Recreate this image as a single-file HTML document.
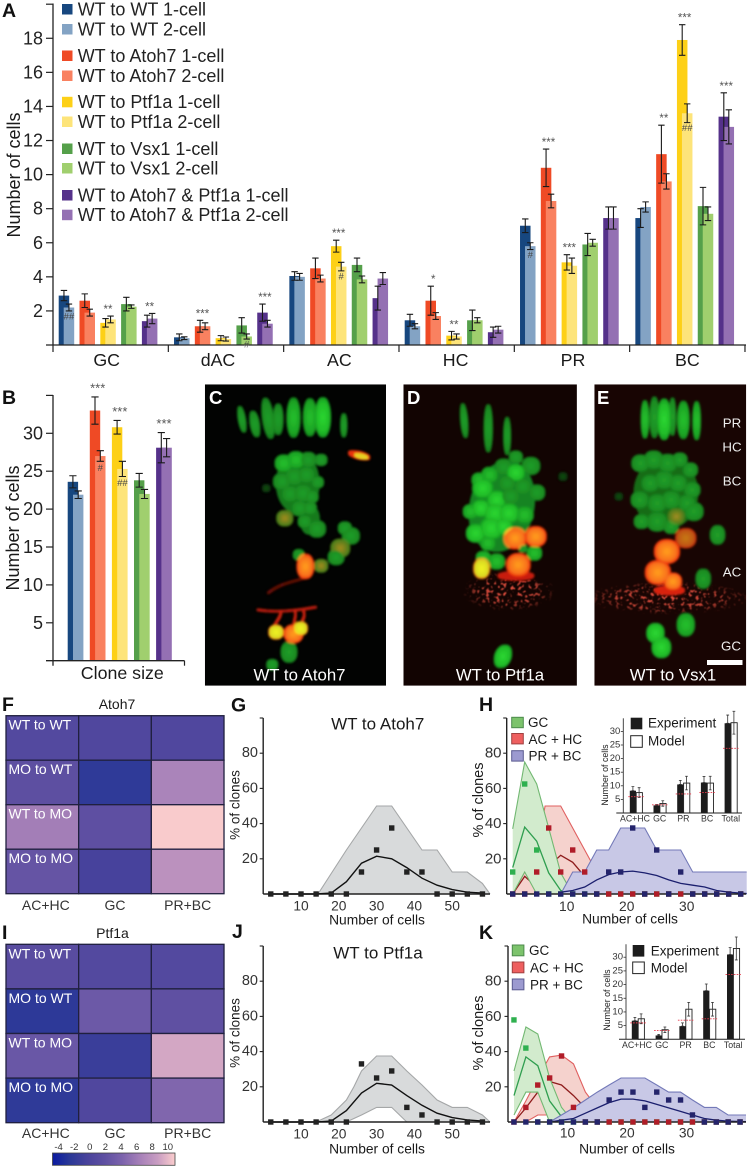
<!DOCTYPE html>
<html lang="en">
<head>
<meta charset="utf-8">
<title>Clone composition figure</title>
<style>
html,body{margin:0;padding:0;background:#fff;width:747px;height:1167px;overflow:hidden}
svg{display:block}
text{font-family:"Liberation Sans",sans-serif;fill:#1a1a1a;dominant-baseline:central}
.pl{font-weight:bold;font-size:19.5px;fill:#111;dominant-baseline:auto}
.wl{fill:#fff;font-size:18.5px}
.lg{font-size:18px;fill:#222}
.hm{font-size:14px;fill:#fff}
.hc{font-size:14px;fill:#333}
.mi{font-size:16.8px;fill:#fff}
.ml{font-size:13.3px;fill:#eee}
</style>
</head>
<body>
<svg id="fig" xmlns="http://www.w3.org/2000/svg" width="747" height="1167" viewBox="0 0 747 1167">
<defs>
<radialGradient id="gc"><stop offset="0" stop-color="#2ad430"/><stop offset=".7" stop-color="#20bc28"/><stop offset="1" stop-color="#14941e"/></radialGradient>
<radialGradient id="gm"><stop offset="0" stop-color="#24be2c"/><stop offset=".75" stop-color="#1ca424"/><stop offset="1" stop-color="#12861a"/></radialGradient>
<radialGradient id="gd"><stop offset="0" stop-color="#209c28"/><stop offset=".75" stop-color="#1a8c22"/><stop offset="1" stop-color="#127418"/></radialGradient>
<radialGradient id="gf"><stop offset="0" stop-color="#0f4a12"/><stop offset="1" stop-color="#082a0a"/></radialGradient>
<radialGradient id="oc"><stop offset="0" stop-color="#ff9a1c"/><stop offset=".7" stop-color="#f8701a"/><stop offset="1" stop-color="#e8240a"/></radialGradient>
<radialGradient id="yc"><stop offset="0" stop-color="#eef020"/><stop offset=".75" stop-color="#d8d820"/><stop offset="1" stop-color="#e0400c"/></radialGradient>
<radialGradient id="ol"><stop offset="0" stop-color="#9a8a20"/><stop offset="1" stop-color="#3d7a18"/></radialGradient>
<radialGradient id="fade"><stop offset="0" stop-color="#fff" stop-opacity="1"/><stop offset=".6" stop-color="#fff" stop-opacity=".8"/><stop offset="1" stop-color="#fff" stop-opacity="0"/></radialGradient>
<linearGradient id="cbar" x1="0" x2="1" y1="0" y2="0">
<stop offset="0" stop-color="#0a1aa0"/><stop offset=".14" stop-color="#2a3897"/><stop offset=".29" stop-color="#4a439c"/><stop offset=".43" stop-color="#5f50a2"/><stop offset=".57" stop-color="#7c63ac"/><stop offset=".71" stop-color="#a57fb8"/><stop offset=".86" stop-color="#c99dc2"/><stop offset="1" stop-color="#fbcdcd"/>
</linearGradient>
<filter id="soft" x="-5%" y="-5%" width="110%" height="110%"><feMorphology operator="dilate" radius="3"/><feGaussianBlur stdDeviation="3"/></filter>
<filter id="speck" x="-5%" y="-5%" width="110%" height="110%">
<feTurbulence type="fractalNoise" baseFrequency="0.1" numOctaves="2" seed="4"/>
<feColorMatrix values="0 0 0 0 .8  0 0 0 0 .08  0 0 0 0 .05  0 0 0 8 -4.4"/>
<feComposite in2="SourceAlpha" operator="in" result="c"/>
<feGaussianBlur in="c" stdDeviation="1.2"/>
</filter>
<clipPath id="clipC"><rect x="14" y="13" width="519" height="905"/></clipPath>
<clipPath id="clipD"><rect x="583" y="13" width="497" height="905"/></clipPath>
<clipPath id="clipE"><rect x="1130" y="13" width="435" height="905"/></clipPath>
</defs>

<!-- Panel A static text -->
<g>
<text class="pl" x="2" y="17">A</text>
<text x="14" y="175" font-size="18" text-anchor="middle" transform="rotate(-90 14 175)">Number of cells</text>
<g id="barsA"></g>
<g>
<rect x="62" y="4" width="10.5" height="10.5" fill="#17477f"/><text class="lg" x="77.7" y="9.6">WT to WT 1-cell</text>
<rect x="62" y="24" width="10.5" height="10.5" fill="#83a3c4"/><text class="lg" x="77.7" y="29.4">WT to WT 2-cell</text>
<rect x="62" y="50.5" width="10.5" height="10.5" fill="#ef4a25"/><text class="lg" x="77.7" y="56">WT to Atoh7 1-cell</text>
<rect x="62" y="70.5" width="10.5" height="10.5" fill="#f98160"/><text class="lg" x="77.7" y="75.8">WT to Atoh7 2-cell</text>
<rect x="62" y="96.8" width="10.5" height="10.5" fill="#fdd017"/><text class="lg" x="77.7" y="102.2">WT to Ptf1a 1-cell</text>
<rect x="62" y="116.5" width="10.5" height="10.5" fill="#fde47a"/><text class="lg" x="77.7" y="121.8">WT to Ptf1a 2-cell</text>
<rect x="62" y="143.5" width="10.5" height="10.5" fill="#55a04a"/><text class="lg" x="77.7" y="148.8">WT to Vsx1 1-cell</text>
<rect x="62" y="163" width="10.5" height="10.5" fill="#a0cf6e"/><text class="lg" x="77.7" y="168.4">WT to Vsx1 2-cell</text>
<rect x="62" y="190" width="10.5" height="10.5" fill="#55318a"/><text class="lg" x="77.7" y="195.4">WT to Atoh7 &amp; Ptf1a 1-cell</text>
<rect x="62" y="209.7" width="10.5" height="10.5" fill="#9470b3"/><text class="lg" x="77.7" y="215">WT to Atoh7 &amp; Ptf1a 2-cell</text>
</g>
</g>

<!-- Panel B static text -->
<g>
<text class="pl" x="2" y="404">B</text>
<text x="13" y="528" font-size="18" text-anchor="middle" transform="rotate(-90 13 528)">Number of cells</text>
<text x="122.3" y="673" font-size="17.8" text-anchor="middle">Clone size</text>
<g id="barsB"></g>
</g>

<!-- Micrographs -->
<g transform="translate(200,380) scale(.349,.333)">
<g clip-path="url(#clipC)">
<rect x="14" y="13" width="519" height="905" fill="#020302"/>
<g filter="url(#soft)">
<ellipse cx="120" cy="118" rx="9" ry="38" fill="url(#gd)" transform="rotate(-10 120 118)"/>
<ellipse cx="157" cy="132" rx="12" ry="38" fill="url(#gd)" transform="rotate(-10 157 132)"/>
<ellipse cx="195" cy="115" rx="15" ry="60" fill="url(#gd)" transform="rotate(-8 195 115)"/>
<ellipse cx="224" cy="118" rx="13" ry="45" fill="url(#gd)"/>
<ellipse cx="268" cy="113" rx="18" ry="58" fill="url(#gm)"/>
<ellipse cx="315" cy="112" rx="18" ry="55" fill="url(#gm)"/>
<ellipse cx="352" cy="112" rx="21" ry="58" fill="url(#gc)"/>
<ellipse cx="412" cy="136" rx="8" ry="34" fill="url(#gd)"/>
<circle cx="190" cy="325" r="10" fill="url(#gf)"/>
<ellipse cx="280" cy="310" rx="60" ry="88" fill="#137a1c"/>
<ellipse cx="315" cy="420" rx="26" ry="42" fill="#137a1c"/>
<circle cx="240" cy="250" r="24" fill="url(#gm)"/>
<circle cx="275" cy="240" r="24" fill="url(#gm)"/>
<circle cx="310" cy="240" r="22" fill="url(#gd)"/>
<circle cx="347" cy="240" r="16" fill="url(#gd)"/>
<circle cx="235" cy="305" r="24" fill="url(#gd)"/>
<circle cx="270" cy="290" r="26" fill="url(#gd)"/>
<circle cx="305" cy="285" r="24" fill="url(#gd)"/>
<circle cx="337" cy="307" r="16" fill="url(#gd)"/>
<circle cx="258" cy="342" r="24" fill="url(#gd)"/>
<circle cx="295" cy="340" r="26" fill="url(#gd)"/>
<circle cx="320" cy="350" r="18" fill="url(#gd)"/>
<circle cx="285" cy="385" r="22" fill="url(#gd)"/>
<circle cx="315" cy="385" r="18" fill="url(#gd)"/>
<circle cx="300" cy="425" r="18" fill="url(#gd)"/>
<circle cx="335" cy="447" r="24" fill="url(#gd)"/>
<circle cx="243" cy="415" r="22" fill="url(#ol)"/>
<circle cx="415" cy="445" r="18" fill="url(#gd)"/>
<circle cx="432" cy="468" r="24" fill="url(#gd)"/>
<circle cx="402" cy="505" r="26" fill="url(#ol)"/>
<circle cx="390" cy="532" r="22" fill="url(#gd)"/>
<circle cx="283" cy="525" r="15" fill="url(#gd)"/>
<circle cx="347" cy="558" r="18" fill="url(#ol)"/>
<ellipse cx="302" cy="560" rx="23" ry="36" fill="url(#oc)"/>
<ellipse cx="456" cy="226" rx="30" ry="10" fill="#e8300c" transform="rotate(15 456 226)"/>
<ellipse cx="462" cy="229" rx="18" ry="5" fill="#d8d020" transform="rotate(15 462 229)"/>
<path d="M195 640 C230 610 270 605 310 592" stroke="#8c140a" stroke-width="1.5" fill="none"/>
<path d="M165 690 C220 700 280 692 332 682" stroke="#b81c0c" stroke-width="3" fill="none"/>
<path d="M212 740 C222 720 232 710 232 695 M268 735 C272 715 276 705 272 692 M292 725 C300 712 300 700 296 692" stroke="#c8200c" stroke-width="2.5" fill="none"/>
<circle cx="268" cy="762" r="26" fill="url(#oc)"/>
<circle cx="218" cy="757" r="20" fill="url(#yc)"/>
<circle cx="288" cy="746" r="19" fill="url(#yc)"/>
<ellipse cx="255" cy="817" rx="22" ry="30" fill="url(#gd)"/>
<circle cx="207" cy="855" r="15" fill="url(#gd)"/>
</g>
</g>

<g clip-path="url(#clipD)">
<rect x="583" y="13" width="497" height="905" fill="#120402"/>
<ellipse cx="885" cy="635" rx="135" ry="60" fill="url(#fade)" filter="url(#speck)"/>
<g filter="url(#soft)">
<ellipse cx="757" cy="122" rx="9" ry="50" fill="url(#gd)" transform="rotate(-5 757 122)"/>
<ellipse cx="826" cy="145" rx="11" ry="70" fill="url(#gd)"/>
<ellipse cx="880" cy="168" rx="9" ry="55" fill="url(#gd)"/>
<circle cx="1040" cy="290" r="11" fill="url(#gf)"/>
<ellipse cx="865" cy="380" rx="90" ry="135" fill="#128420" transform="rotate(12 865 380)"/>
<ellipse cx="905" cy="588" rx="50" ry="12" fill="#c81c0a"/>
<circle cx="905" cy="232" r="18" fill="url(#gd)"/>
<circle cx="948" cy="258" r="25" fill="url(#gd)"/>
<circle cx="870" cy="262" r="24" fill="url(#gd)"/>
<circle cx="905" cy="278" r="24" fill="url(#gc)"/>
<circle cx="800" cy="300" r="20" fill="url(#gm)"/>
<circle cx="830" cy="285" r="22" fill="url(#gm)"/>
<circle cx="965" cy="338" r="22" fill="url(#gd)"/>
<circle cx="925" cy="320" r="24" fill="url(#gd)"/>
<circle cx="880" cy="310" r="24" fill="url(#gd)"/>
<circle cx="810" cy="325" r="28" fill="url(#gc)"/>
<circle cx="850" cy="360" r="26" fill="url(#gc)"/>
<circle cx="890" cy="350" r="26" fill="url(#gd)"/>
<circle cx="775" cy="395" r="20" fill="url(#gm)"/>
<circle cx="805" cy="385" r="24" fill="url(#gc)"/>
<circle cx="845" cy="400" r="30" fill="url(#gc)"/>
<circle cx="885" cy="400" r="28" fill="url(#gc)"/>
<circle cx="930" cy="405" r="24" fill="url(#gm)"/>
<circle cx="790" cy="460" r="26" fill="url(#gc)"/>
<circle cx="835" cy="445" r="32" fill="url(#gc)"/>
<circle cx="870" cy="440" r="24" fill="url(#gc)"/>
<circle cx="825" cy="490" r="20" fill="url(#gm)"/>
<circle cx="812" cy="535" r="20" fill="url(#gm)"/>
<circle cx="850" cy="545" r="22" fill="url(#gm)"/>
<circle cx="958" cy="520" r="20" fill="url(#gm)"/>
<circle cx="903" cy="475" r="31" fill="url(#oc)"/>
<circle cx="962" cy="470" r="29" fill="url(#oc)"/>
<circle cx="912" cy="555" r="33" fill="url(#oc)"/>
<circle cx="925" cy="505" r="11" fill="url(#gd)"/>
<ellipse cx="807" cy="566" rx="22" ry="29" fill="url(#yc)"/>
<ellipse cx="868" cy="830" rx="22" ry="34" fill="url(#gc)" transform="rotate(20 868 830)"/>
</g>
</g>

<g clip-path="url(#clipE)">
<rect x="1130" y="13" width="435" height="905" fill="#180503"/>
<ellipse cx="1340" cy="655" rx="240" ry="50" fill="url(#fade)" filter="url(#speck)"/>
<g filter="url(#soft)">
<ellipse cx="1275" cy="118" rx="10" ry="55" fill="url(#gm)"/>
<ellipse cx="1302" cy="112" rx="12" ry="60" fill="url(#gd)"/>
<ellipse cx="1330" cy="118" rx="18" ry="60" fill="url(#gc)"/>
<ellipse cx="1354" cy="110" rx="8" ry="55" fill="url(#gd)"/>
<ellipse cx="1385" cy="120" rx="16" ry="55" fill="url(#gm)"/>
<ellipse cx="1423" cy="122" rx="10" ry="56" fill="url(#gm)"/>
<circle cx="1200" cy="350" r="10" fill="url(#gf)"/>
<ellipse cx="1335" cy="340" rx="90" ry="105" fill="#126c18"/>
<circle cx="1262" cy="250" r="24" fill="url(#gd)"/>
<circle cx="1300" cy="240" r="26" fill="url(#gd)"/>
<circle cx="1340" cy="250" r="26" fill="url(#gd)"/>
<circle cx="1375" cy="240" r="20" fill="url(#gd)"/>
<circle cx="1405" cy="270" r="20" fill="url(#gd)"/>
<circle cx="1290" cy="310" r="24" fill="url(#gd)"/>
<circle cx="1330" cy="300" r="26" fill="url(#gd)"/>
<circle cx="1370" cy="310" r="24" fill="url(#gd)"/>
<circle cx="1410" cy="330" r="22" fill="url(#gd)"/>
<circle cx="1260" cy="360" r="24" fill="url(#gd)"/>
<circle cx="1310" cy="370" r="26" fill="url(#gd)"/>
<circle cx="1350" cy="360" r="26" fill="url(#gd)"/>
<circle cx="1395" cy="370" r="24" fill="url(#gd)"/>
<circle cx="1265" cy="425" r="20" fill="url(#gd)"/>
<circle cx="1310" cy="425" r="28" fill="url(#gd)"/>
<circle cx="1415" cy="395" r="26" fill="url(#gd)"/>
<circle cx="1350" cy="440" r="20" fill="url(#gd)"/>
<circle cx="1365" cy="410" r="22" fill="url(#ol)"/>
<ellipse cx="1483" cy="465" rx="20" ry="27" fill="url(#gd)"/>
<ellipse cx="1442" cy="597" rx="20" ry="28" fill="url(#gd)"/>
<ellipse cx="1345" cy="632" rx="42" ry="12" fill="#d8200c"/>
<circle cx="1392" cy="475" r="28" fill="url(#oc)" opacity=".75"/>
<circle cx="1338" cy="515" r="35" fill="url(#oc)"/>
<circle cx="1312" cy="578" r="35" fill="url(#oc)"/>
<circle cx="1355" cy="605" r="24" fill="url(#oc)"/>
<ellipse cx="1392" cy="735" rx="24" ry="33" fill="url(#gm)"/>
<ellipse cx="1305" cy="760" rx="24" ry="28" fill="url(#gc)"/>
<ellipse cx="1322" cy="803" rx="26" ry="30" fill="url(#gc)"/>
</g>
</g>
</g>
<g>
<text class="pl wl" x="209" y="404">C</text>
<text class="pl wl" x="407" y="404">D</text>
<text class="pl wl" x="597" y="404">E</text>
<text class="mi" x="299.5" y="675" text-anchor="middle">WT to Atoh7</text>
<text class="mi" x="500" y="675" text-anchor="middle">WT to Ptf1a</text>
<text class="mi" x="673" y="675" text-anchor="middle">WT to Vsx1</text>
<text class="ml" x="732" y="423" text-anchor="middle">PR</text>
<text class="ml" x="732" y="447" text-anchor="middle">HC</text>
<text class="ml" x="732" y="481" text-anchor="middle">BC</text>
<text class="ml" x="732" y="572" text-anchor="middle">AC</text>
<text class="ml" x="731" y="646" text-anchor="middle">GC</text>
<rect x="707" y="660" width="35.5" height="5" fill="#fff"/>
</g>

<!-- Heatmaps text -->
<g>
<text class="pl" x="2" y="711">F</text>
<text x="117" y="704" font-size="14" text-anchor="middle" fill="#333">Atoh7</text>
<g id="heatF"></g>
</g>
<g>
<text class="pl" x="2" y="939">I</text>
<text x="112.5" y="933" font-size="14" text-anchor="middle" fill="#333">Ptf1a</text>
<g id="heatI"></g>
<rect x="52.5" y="1153" width="122.5" height="12.3" fill="url(#cbar)" stroke="#444" stroke-width=".8"/>
<g id="cbarTicks"></g>
</g>

<!-- G / J -->
<g>
<text class="pl" x="231" y="711.5">G</text>
<text x="377.7" y="724" font-size="17" text-anchor="middle" fill="#222">WT to Atoh7</text>
<text x="235" y="805" font-size="13.5" text-anchor="middle" transform="rotate(-90 235 805)" fill="#333">% of clones</text>
<text x="377" y="920" font-size="13.8" text-anchor="middle" fill="#333">Number of cells</text>
<g id="plotG"></g>
</g>
<g>
<text class="pl" x="232" y="938">J</text>
<text x="378" y="953" font-size="17" text-anchor="middle" fill="#222">WT to Ptf1a</text>
<text x="235" y="1033" font-size="13.5" text-anchor="middle" transform="rotate(-90 235 1033)" fill="#333">% of clones</text>
<text x="377" y="1149" font-size="13.8" text-anchor="middle" fill="#333">Number of cells</text>
<g id="plotJ"></g>
</g>

<!-- H / K -->
<g>
<text class="pl" x="479" y="711">H</text>
<text x="479" y="800" font-size="14.5" text-anchor="middle" transform="rotate(-90 479 800)" fill="#333">% of clones</text>
<text x="630" y="919" font-size="13.8" text-anchor="middle" fill="#333">Number of cells</text>
<g id="plotH"></g>
<g>
<rect x="511.7" y="717.3" width="11.6" height="10.4" fill="#7cc36c" stroke="#4c8a4c"/><text x="528" y="722.5" font-size="13.5" fill="#222">GC</text>
<rect x="511.7" y="733.5" width="11.6" height="10.4" fill="#ee5f5f" stroke="#a04040"/><text x="528.5" y="739.5" font-size="13.5" fill="#222">AC + HC</text>
<rect x="511.7" y="750.7" width="11.6" height="10.4" fill="#9c9ad0" stroke="#5a5a90"/><text x="528.5" y="756" font-size="13.5" fill="#222">PR + BC</text>
</g>
<g id="insetH"></g>
<text x="605" y="775" font-size="8.8" text-anchor="middle" transform="rotate(-90 605 775)" fill="#333">Number of cells</text>
<g>
<rect x="630.7" y="717.7" width="11.6" height="11.6" fill="#1c1c1c"/><text x="648" y="723" font-size="13.5" fill="#222">Experiment</text>
<rect x="630.7" y="735.7" width="11.6" height="11.6" fill="#fff" stroke="#222"/><text x="648" y="741" font-size="13.5" fill="#222">Model</text>
</g>
</g>
<g>
<text class="pl" x="479" y="939">K</text>
<text x="479" y="1033" font-size="14.5" text-anchor="middle" transform="rotate(-90 479 1033)" fill="#333">% of clones</text>
<text x="627" y="1149" font-size="13.8" text-anchor="middle" fill="#333">Number of cells</text>
<g id="plotK"></g>
<g>
<rect x="512.3" y="945" width="11.6" height="10.8" fill="#7cc36c" stroke="#4c8a4c"/><text x="529" y="950.5" font-size="13.5" fill="#222">GC</text>
<rect x="512.3" y="962" width="11.6" height="10.8" fill="#ee5f5f" stroke="#a04040"/><text x="530" y="968" font-size="13.5" fill="#222">AC + HC</text>
<rect x="512.3" y="979" width="11.6" height="10.8" fill="#9c9ad0" stroke="#5a5a90"/><text x="530" y="985" font-size="13.5" fill="#222">PR + BC</text>
</g>
<g id="insetK"></g>
<text x="607" y="1000" font-size="8.8" text-anchor="middle" transform="rotate(-90 607 1000)" fill="#333">Number of cells</text>
<g>
<rect x="632.7" y="945" width="11.6" height="11.6" fill="#1c1c1c"/><text x="650.7" y="951" font-size="13.5" fill="#222">Experiment</text>
<rect x="632.7" y="962" width="11.6" height="11.6" fill="#fff" stroke="#222"/><text x="650.7" y="968" font-size="13.5" fill="#222">Model</text>
</g>
</g>
</svg>

<script>
/* ---------- Panel A data ---------- */
const aGroups = ['GC','dAC','AC','HC','PR','BC'];
const aTickValues = [2,4,6,8,10,12,14,16,18,20];
const aTickLabels = ['2','4','6','8','10','12','14','16','18',''];
const seriesNames = ['wt','atoh7','ptf1a','vsx1','both'];
const oneCellColors = ['#17477f','#ef4a25','#fdd017','#55a04a','#55318a'];
const twoCellColors = ['#83a3c4','#f98160','#fde47a','#a0cf6e','#9470b3'];
const aOneCell = [[2.9,2.6,1.3,2.4,1.4],[0.45,1.1,0.4,1.15,1.9],[4.05,4.5,5.8,4.7,2.75],[1.45,2.6,0.55,1.45,0.75],[7.0,10.4,4.85,5.9,7.45],[7.45,11.2,17.9,8.15,13.4]];
const aOneCellErr = [[0.3,0.4,0.25,0.4,0.35],[0.2,0.35,0.15,0.45,0.5],[0.25,0.6,0.35,0.4,0.7],[0.35,0.85,0.25,0.6,0.3],[0.4,1.1,0.45,0.65,0.65],[0.55,1.7,0.9,1.1,1.4]];
const aTwoCell = [[2.2,1.9,1.5,2.25,1.55],[0.4,1.1,0.35,0.5,1.25],[4.0,3.9,4.6,3.85,3.9],[1.1,1.7,0.5,1.45,0.9],[5.8,8.45,4.65,6.0,7.45],[8.1,9.6,13.6,7.7,12.8]];
const aTwoCellErr = [[0.2,0.2,0.2,0.1,0.3],[0.08,0.2,0.12,0.15,0.2],[0.2,0.2,0.25,0.2,0.35],[0.15,0.2,0.15,0.15,0.2],[0.2,0.4,0.45,0.2,0.65],[0.3,0.45,0.55,0.4,1.0]];
const aStarLabels = [[0,2,'**'],[0,4,'**'],[1,1,'***'],[1,4,'***'],[2,2,'***'],[3,1,'*'],[3,2,'**'],[4,1,'***'],[4,2,'***'],[5,1,'**'],[5,2,'***'],[5,4,'***']];
const aHashLabels = [[0,0,'##'],[1,3,'#'],[2,2,'#'],[4,0,'#'],[5,2,'##']];

/* ---------- Panel B data ---------- */
const bTickValues = [5,10,15,20,25,30,35];
const bTickLabels = ['5','10','15','20','25','30',''];
const bOneCell = [23.6,33,30.8,23.8,28.1];
const bOneCellErr = [0.8,1.8,0.9,0.9,2.0];
const bTwoCell = [21.9,27,25.3,22,28.1];
const bTwoCellErr = [0.5,0.7,1.0,0.6,1.2];
const bStarLabels = [[1,'***'],[2,'***'],[4,'***']];
const bHashLabels = [[1,'#'],[2,'##']];

/* ---------- Heatmap data ---------- */
const heatRows = ['WT to WT','MO to WT','WT to MO','MO to MO'];
const heatCols = ['AC+HC','GC','PR+BC'];
const heatAtoh7 = [[0.9,0.6,0.6],[1.8,-1.7,6.3],[5.9,1.9,9.9],[2.4,-0.2,7.2]];
const heatPtf1a = [[1.4,0.9,0.9],[-1.8,2.9,2.0],[2.7,-1.0,8.4],[-1.7,0.6,4.2]];
const colorStops = [-4,-2,0,2,4,6,8,10];
const colorValues = ['#0a1aa0','#2a3897','#4a439c','#5f50a2','#7c63ac','#a57fb8','#c99dc2','#fbcdcd'];
const cbarLabels = ['-4','-2','0','2','4','6','8','10'];

/* ---------- Distribution axes ---------- */
const pctTicks = [20,40,60,80,100];
const pctLabels = ['20','40','60','80',''];
const gjXTicks = [10,20,30,40,50];
const hkXTicks = [10,20,30];

/* ---------- Panel G data ---------- */
const gjSizes = [2,6,10,14,18,22,26,30,34,38,42,46,50,54,58];
const gPoints = [0,0,0,0,0,0,12.5,25,37.5,12.5,12.5,0,0,0,0];
const gMeanX = [2,6,10,14,18,22,26,30,34,38,42,46,50,54,58];
const gMean = [0,0,0,0,0.5,7,17.5,21.5,20,15,9,5,2.5,1,0.5];
const gBandX = [14.5,22,30,34,42,46,50,54,58,60];
const gBandUpper = [0,25,50,50,25,25,12.5,12.5,6,0];
const gBandLower = [0,0,0,0,0,0,0,0,0,0];

/* ---------- Panel J data ---------- */
const jPoints = [0,0,0,0,0,0,33,25,29,8.3,4,0,0,0,0];
const jMean = [0,0,0,0,0.5,6.5,16.5,22,21,15,9.5,5,2.5,1.2,0.5];
const jBandX = [14,18,22,24,26,30,34,38,42,46,50,54,58,60];
const jBandUpper = [0,4,12.5,20,29,37.5,37.5,29,21,12.5,8.3,8.3,4,0];
const jBandLower = [0,0,0,2,4,8.3,8.3,0,0,0,0,0,0,0];

/* ---------- Panel H data ---------- */
const hkSizes = [1,3,5,7,9,11,13,15,17,19,21,23,25,27,29,31,33,35,37,39];
const hGcPoints = [12.5,62.5,25,0,0,0,0,0,0,0,0,0,0,0,0,0,0,0,0,0];
const hAcPoints = [0,0,12.5,37.5,12.5,25,12.5,0,0,0,0,0,0,0,0,0,0,0,0,0];
const hPrPoints = [0,0,0,0,0,0,0,0,12.5,12.5,37.5,0,25,0,12.5,0,0,0,0,0];
const hGcBandX = [1,3,5,7,9,11];
const hGcUpper = [37,75,62.5,37.5,12,0];
const hGcLower = [0,12.5,0,0,0,0];
const hGcMean = [15,38,30,12,2,0];
const hAcBandX = [1,3,5,6.4,9,11,13,15,17];
const hAcUpper = [0,12.5,25,50,50,37.5,25,12.5,0];
const hAcLower = [0,0,0,0,0,0,0,0,0];
const hAcMean = [0,10,4,14,22,18,10,3,0];
const hPrBandX = [9,11,13,15,17,19,21,23,25,27,29,31,33,35,37,39,40];
const hPrUpper = [0,12.5,12.5,25,25,37.5,37.5,37.5,25,25,25,12.5,12.5,12.5,12.5,12.5,12.5];
const hPrLower = [0,0,0,0,0,0,0,0,0,0,0,0,0,0,0,0,0];
const hPrMean = [1,2,4,8,11,12.5,13,12,10.5,8,6,5,4,2,1,0.5,0.3];

/* ---------- Panel K data ---------- */
const kGcPoints = [58,42,0,0,0,0,0,0,0,0,0,0,0,0,0,0,0,0,0,0];
const kAcPoints = [0,8.3,21,25,37.5,8.3,0,0,0,0,0,0,0,0,0,0,0,0,0,0];
const kPrPoints = [0,0,0,0,0,0,0,0,12.5,17,17,8.3,17,12.5,12.5,4,0,0,0,0];
const kGcBandX = [1,3,5,7,9,11];
const kGcUpper = [29,54,50,25,8.3,0];
const kGcLower = [4,17,17,0,0,0];
const kGcMean = [15,37,32,12,3,0];
const kAcBandX = [1,3,5,7,9,11,13,15,17];
const kAcUpper = [0,12,25,37,38,33,17,8,0];
const kAcLower = [0,0,4,4,0,0,0,0,0];
const kAcMean = [0,8,17,23,21,15,8,3,0];
const kPrBandX = [7,9,11,13,15,17,19,21,23,25,27,29,31,33,35,37,39,40];
const kPrUpper = [0,4,8,12.5,17,21,25,25,25,21,17,17,12.5,8.3,8.3,4,4,4];
const kPrLower = [0,0,0,0,0,0,0,0,0,0,0,0,0,0,0,0,0,0];
const kPrMean = [0,1,2,5,8,11,13,13,12,10,8,6,4,2,1,0.5,0.3,0.2];

/* ---------- Inset data ---------- */
const insetCats = ['AC+HC','GC','PR','BC','Total'];
const insetTicks = [5,10,15,20,25,30];
const hExp = [8.2,2.8,10.5,11.2,33];
const hExpErr = [1.5,0.3,1.5,2.2,3];
const kExp = [6.8,1.4,4.8,17.8,31];
const kExpErr = [1.2,0.4,1.2,2.4,2.5];
const modelVals = [7.5,3.5,11,11,33.2];
const modelErr = [1.8,1,2.5,2.5,4.2];
const hExpected = [6,3,7,7.5,23.8];
const kExpected = [6,3.2,7,7.5,23.7];

/* ---------- Drawing helpers ---------- */
const NS = 'http://www.w3.org/2000/svg';
function mk(parent, tag, attrs, text) {
  const e = document.createElementNS(NS, tag);
  for (const k in attrs) e.setAttribute(k, attrs[k]);
  if (text !== undefined) e.textContent = text;
  parent.appendChild(e);
  return e;
}
function line(parent, x1, y1, x2, y2, stroke, w, name) {
  const e = mk(parent, 'line', {x1, y1, x2, y2, stroke, 'stroke-width': w});
  
  
  return e;
}
function label(parent, x, y, str, size, anchor, fill, name) {
  const e = mk(parent, 'text', {x, y, 'font-size': size, 'text-anchor': anchor, style: 'fill:' + fill}, str);
  
  
  return e;
}
function errorBar(parent, x, yTop, yBot, cap, w, stroke, name) {
  const p = mk(parent, 'path', {d: `M${x - cap} ${yTop}H${x + cap}M${x} ${yTop}V${yBot}M${x - cap} ${yBot}H${x + cap}`, stroke, 'stroke-width': w, fill: 'none'});
  
  
}
function box(parent, x, y, w, h, fill, stroke, name) {
  const r = mk(parent, 'rect', {x, y, width: w, height: h, fill});
  if (stroke) { r.setAttribute('stroke', stroke); r.setAttribute('stroke-width', 0.9); }
  
  
  return r;
}

/* ---------- Panel A ---------- */
(function () {
  const g = document.getElementById('barsA');
  const zero = 345, unit = 17.04, x0 = 53, groupW = 115.33, pairStep = 20.8, barW = 10.5, pad = 5.7, off = 5;
  const y = v => zero - unit * v;
  const groupX = i => x0 + groupW * i;
  const pairX = (i, j) => groupX(i) + pad + pairStep * j;
  aGroups.forEach((name, i) => {
    seriesNames.forEach((s, j) => {
      const p = pairX(i, j);
      box(g, p, y(aOneCell[i][j]), barW, zero - y(aOneCell[i][j]), oneCellColors[j], null, 'bar-' + name + '-' + s + '-1-cell');
      box(g, p + off, y(aTwoCell[i][j]), barW, zero - y(aTwoCell[i][j]), twoCellColors[j], null, 'bar-' + name + '-' + s + '-2-cell');
      errorBar(g, p + barW / 2, y(aOneCell[i][j] + aOneCellErr[i][j]), y(aOneCell[i][j] - aOneCellErr[i][j]), 3.2, 1.1, '#1a1a1a', 'error-bar-' + name + '-' + s + '-1-cell');
      errorBar(g, p + off + barW / 2, y(aTwoCell[i][j] + aTwoCellErr[i][j]), y(aTwoCell[i][j] - aTwoCellErr[i][j]), 3.2, 1.1, '#1a1a1a', 'error-bar-' + name + '-' + s + '-2-cell');
    });
    const shift = [-4, -8, -2, -1, 1, 0][i];
    label(g, groupX(i) + groupW / 2 + shift, 360, name, 17.8, 'middle', '#1a1a1a', 'x-category-' + name);
  });
  line(g, x0, 3.5, x0, zero, '#222', 1.3, 'y-axis-a');
  line(g, 46, zero, 746, zero, '#222', 1.3, 'x-axis-a');
  for (let i = 0; i <= aGroups.length; i++) line(g, groupX(i), zero, groupX(i), zero + 7, '#222', 1.2, 'x-tick-a');
  aTickValues.forEach((v, i) => {
    line(g, 46, y(v), x0, y(v), '#222', 1.2, 'y-tick-a');
    if (aTickLabels[i]) label(g, 43, y(v), aTickLabels[i], 18, 'end', '#222', 'y-tick-label-a');
  });
  aStarLabels.forEach(a => {
    const i = a[0], j = a[1];
    const top = Math.max(aOneCell[i][j] + aOneCellErr[i][j], aTwoCell[i][j] + aTwoCellErr[i][j]);
    label(g, pairX(i, j) + 7.7, y(top) - 6, a[2], 11.5, 'middle', '#555', 'significance-stars');
  });
  aHashLabels.forEach(a => {
    const i = a[0], j = a[1];
    label(g, pairX(i, j) + off + barW / 2, y(aTwoCell[i][j] - aTwoCellErr[i][j]) + 6, a[2], 9.5, 'middle', '#444', 'significance-hash');
  });
})();

/* ---------- Panel B ---------- */
(function () {
  const g = document.getElementById('barsB');
  const zero = 660.7, unit = 7.58, x0 = 53, step = 22.1, barW = 10.4, left = 67.7, off = 5.3;
  const y = v => zero - unit * v;
  const pairX = j => left + step * j;
  seriesNames.forEach((s, j) => {
    const p = pairX(j);
    box(g, p, y(bOneCell[j]), barW, zero - y(bOneCell[j]), oneCellColors[j], null, 'clone-size-bar-' + s + '-1-cell');
    box(g, p + off, y(bTwoCell[j]), barW, zero - y(bTwoCell[j]), twoCellColors[j], null, 'clone-size-bar-' + s + '-2-cell');
    errorBar(g, p + barW / 2, y(bOneCell[j] + bOneCellErr[j]), y(bOneCell[j] - bOneCellErr[j]), 3.6, 1.1, '#1a1a1a', 'clone-size-error-' + s + '-1-cell');
    errorBar(g, p + off + barW / 2, y(bTwoCell[j] + bTwoCellErr[j]), y(bTwoCell[j] - bTwoCellErr[j]), 3.6, 1.1, '#1a1a1a', 'clone-size-error-' + s + '-2-cell');
  });
  line(g, x0, 395, x0, zero + 5, '#222', 1.3, 'y-axis-b');
  line(g, 46, zero, 184.5, zero, '#222', 1.3, 'x-axis-b');
  line(g, 184.5, zero, 184.5, zero + 5, '#222', 1.2, 'x-tick-b');
  bTickValues.forEach((v, i) => {
    line(g, 46, y(v), x0, y(v), '#222', 1.2, 'y-tick-b');
    if (bTickLabels[i]) label(g, 43, y(v), bTickLabels[i], 18, 'end', '#222', 'y-tick-label-b');
  });
  bStarLabels.forEach(a => {
    const j = a[0];
    const top = Math.max(bOneCell[j] + bOneCellErr[j], bTwoCell[j] + bTwoCellErr[j]);
    label(g, pairX(j) + 7.9, y(top) - 9, a[1], 13, 'middle', '#555', 'significance-stars');
  });
  bHashLabels.forEach(a => {
    const j = a[0];
    label(g, pairX(j) + off + barW / 2, y(bTwoCell[j] - bTwoCellErr[j]) + 7, a[1], 9.5, 'middle', '#444', 'significance-hash');
  });
})();

/* ---------- Heatmaps ---------- */
function heatColor(v) {
  let i = 0;
  while (i < colorStops.length - 2 && v > colorStops[i + 1]) i++;
  const t = Math.min(1, Math.max(0, (v - colorStops[i]) / (colorStops[i + 1] - colorStops[i])));
  const c = s => [1, 3, 5].map(k => parseInt(s.substr(k, 2), 16));
  const a = c(colorValues[i]), b = c(colorValues[i + 1]);
  return 'rgb(' + a.map((x, k) => Math.round(x + (b[k] - x) * t)).join(',') + ')';
}
function drawHeat(id, values, top, bottom, labelY) {
  const g = document.getElementById(id);
  const left = 6, colW = 72.67, rowH = (bottom - top) / heatRows.length;
  heatRows.forEach((row, r) => {
    heatCols.forEach((col, c) => {
      const cell = box(g, left + c * colW, top + r * rowH, colW, rowH, heatColor(values[r][c]), '#20203f', 'heatmap-cell-' + row.toLowerCase().replace(/ /g, '-') + '-' + col.toLowerCase().replace('+', '-'));
      cell.setAttribute('stroke-width', 1.3);
    });
    const t = mk(g, 'text', {x: left + 2.5, y: top + r * rowH + 9, class: 'hm'}, row);
    
    
  });
  heatCols.forEach((col, c) => {
    const t = mk(g, 'text', {x: left + (c + 0.5) * colW + (c === 0 ? 3.5 : 0), y: labelY, class: 'hc', 'text-anchor': 'middle'}, col);
    
    
  });
}
drawHeat('heatF', heatAtoh7, 715.7, 893.7, 905);
drawHeat('heatI', heatPtf1a, 944.3, 1122.7, 1133);
(function () {
  const g = document.getElementById('cbarTicks');
  const xs = v => 58.6 + (v + 4) * 7.8;
  colorStops.forEach((v, i) => {
    label(g, xs(v), 1147.5, cbarLabels[i], 9.5, 'middle', '#333', 'colorbar-tick-label');
  });
})();

/* ---------- Distribution plots ---------- */
function poly(g, xs, ys, sx, sy, attrs, name) {
  const d = xs.map((x, i) => (i ? 'L' : 'M') + sx(x).toFixed(1) + ' ' + sy(ys[i]).toFixed(1)).join('');
  const p = mk(g, 'path', Object.assign({d, fill: 'none'}, attrs));
  
  
}
function band(g, xs, up, lo, sx, sy, fill, edge, name) {
  const upper = xs.map((x, i) => sx(x).toFixed(1) + ' ' + sy(up[i]).toFixed(1));
  const lower = xs.map((x, i) => sx(x).toFixed(1) + ' ' + sy(lo[i]).toFixed(1)).reverse();
  const p = mk(g, 'path', {d: 'M' + upper.concat(lower).join('L') + 'Z', fill, stroke: 'none'});
  
  
  poly(g, xs, up, sx, sy, {stroke: edge, 'stroke-width': 1.1}, name + '-band-upper');
  poly(g, xs, lo, sx, sy, {stroke: edge, 'stroke-width': 1.1}, name + '-band-lower');
}
function squares(g, xs, ys, sx, sy, fill, size, name) {
  xs.forEach((x, i) => {
    const r = mk(g, 'rect', {x: sx(x) - size / 2, y: sy(ys[i]) - size / 2, width: size, height: size, fill});
    
    
  });
}
function axes(g, sx, sy, xTicks, xEnd, xLabelY, tickFont, labelRight, tag) {
  pctTicks.forEach((v, i) => {
    line(g, sx(0) - 3.5, sy(v), sx(0), sy(v), '#222', 1.1, 'y-tick-' + tag);
    if (pctLabels[i]) label(g, labelRight, sy(v), pctLabels[i], tickFont, 'end', '#333', 'y-tick-label-' + tag);
  });
  xTicks.forEach(v => {
    label(g, sx(v), xLabelY, String(v), 13.8, 'middle', '#333', 'x-tick-label-' + tag);
  });
  line(g, sx(0), sy(100), sx(0), sy(0), '#222', 1.4, 'y-axis-' + tag);
  line(g, sx(0), sy(0), xEnd, sy(0), '#222', 1.6, 'x-axis-' + tag);
}

/* G */
(function () {
  const g = document.getElementById('plotG');
  const sx = v => 263.2 + 3.78 * v, sy = v => 894 - 1.76 * v;
  band(g, gBandX, gBandUpper, gBandLower, sx, sy, '#d8dadb', '#a5a7a8', 'distribution-g');
  axes(g, sx, sy, gjXTicks, 490, 906, 14.5, 258, 'g');
  poly(g, gMeanX, gMean, sx, sy, {stroke: '#111', 'stroke-width': 1.4}, 'mean-line-g');
  squares(g, gjSizes, gPoints, sx, sy, '#222', 5.4, 'experiment-point-g');
})();
/* J */
(function () {
  const g = document.getElementById('plotJ');
  const sx = v => 263.2 + 3.78 * v, sy = v => 1122 - 1.76 * v;
  band(g, jBandX, jBandUpper, jBandLower, sx, sy, '#d8dadb', '#a5a7a8', 'distribution-j');
  axes(g, sx, sy, gjXTicks, 490, 1134, 14.5, 258, 'j');
  poly(g, gjSizes, jMean, sx, sy, {stroke: '#111', 'stroke-width': 1.4}, 'mean-line-j');
  squares(g, gjSizes, jPoints, sx, sy, '#222', 5.4, 'experiment-point-j');
})();
/* H */
(function () {
  const g = document.getElementById('plotH');
  const sx = v => 506.7 + 6 * v, sy = v => 894 - 1.76 * v;
  band(g, hAcBandX, hAcUpper, hAcLower, sx, sy, '#f5d2cd', '#e06060', 'ac-hc-h');
  poly(g, hAcBandX, hAcMean, sx, sy, {stroke: '#8e1c1c', 'stroke-width': 1.3}, 'ac-hc-mean-h');
  band(g, hGcBandX, hGcUpper, hGcLower, sx, sy, '#d2ebcd', '#72b872', 'gc-h');
  poly(g, hGcBandX, hGcMean, sx, sy, {stroke: '#2f9e4f', 'stroke-width': 1.3}, 'gc-mean-h');
  band(g, hPrBandX, hPrUpper, hPrLower, sx, sy, '#c8c8e6', '#7379b8', 'pr-bc-h');
  poly(g, hPrBandX, hPrMean, sx, sy, {stroke: '#1b1f6e', 'stroke-width': 1.3}, 'pr-bc-mean-h');
  axes(g, sx, sy, hkXTicks, 746, 906.5, 15, 501.5, 'h');
  squares(g, hkSizes, hGcPoints, sx, sy, '#2fb04f', 5.4, 'gc-point-h');
  squares(g, hkSizes, hAcPoints, sx, sy, '#b01c28', 5.4, 'ac-hc-point-h');
  squares(g, hkSizes, hPrPoints, sx, sy, '#24246b', 5.4, 'pr-bc-point-h');
})();
/* K */
(function () {
  const g = document.getElementById('plotK');
  const sx = v => 508 + 5.95 * v, sy = v => 1122 - 1.76 * v;
  band(g, kAcBandX, kAcUpper, kAcLower, sx, sy, '#f5d2cd', '#e06060', 'ac-hc-k');
  poly(g, kAcBandX, kAcMean, sx, sy, {stroke: '#8e1c1c', 'stroke-width': 1.3}, 'ac-hc-mean-k');
  band(g, kGcBandX, kGcUpper, kGcLower, sx, sy, '#d2ebcd', '#72b872', 'gc-k');
  poly(g, kGcBandX, kGcMean, sx, sy, {stroke: '#2f9e4f', 'stroke-width': 1.3}, 'gc-mean-k');
  band(g, kPrBandX, kPrUpper, kPrLower, sx, sy, '#c8c8e6', '#7379b8', 'pr-bc-k');
  poly(g, kPrBandX, kPrMean, sx, sy, {stroke: '#1b1f6e', 'stroke-width': 1.3}, 'pr-bc-mean-k');
  axes(g, sx, sy, hkXTicks, 746, 1133, 15, 501.5, 'k');
  squares(g, hkSizes, kGcPoints, sx, sy, '#2fb04f', 5.4, 'gc-point-k');
  squares(g, hkSizes, kAcPoints, sx, sy, '#b01c28', 5.4, 'ac-hc-point-k');
  squares(g, hkSizes, kPrPoints, sx, sy, '#24246b', 5.4, 'pr-bc-point-k');
})();

/* ---------- Insets ---------- */
function drawInset(id, exp, expErr, expected, cfg) {
  const g = document.getElementById(id);
  const y = v => cfg.zero - cfg.unit * v;
  const cx = i => cfg.first + cfg.step * i;
  const w = 6.2;
  insetCats.forEach((cat, i) => {
    const c = cx(i);
    box(g, c - w, y(exp[i]), w, cfg.zero - y(exp[i]), '#1c1c1c', null, 'inset-experiment-bar-' + cat.toLowerCase().replace('+', '-'));
    box(g, c + 0.2, y(modelVals[i]), w, cfg.zero - y(modelVals[i]), '#fff', '#222', 'inset-model-bar-' + cat.toLowerCase().replace('+', '-'));
    errorBar(g, c - w / 2, y(exp[i] + expErr[i]), y(exp[i]), 1.4, 0.8, '#333', 'inset-experiment-error');
    errorBar(g, c + w / 2, y(modelVals[i] + modelErr[i]), y(modelVals[i] - modelErr[i]), 1.4, 0.8, '#333', 'inset-model-error');
    const d = line(g, c - w - 1.5, y(expected[i]), c + w + 1.5, y(expected[i]), '#e8394a', 0.9, 'inset-expected-line');
    d.setAttribute('stroke-dasharray', '1.6 1.2');
    label(g, c - (i === 0 ? 1 : 0), cfg.zero + 5.5, cat, 8.8, 'middle', '#333', 'inset-category-label');
  });
  insetTicks.forEach(v => {
    line(g, cfg.axis - 2.5, y(v), cfg.axis, y(v), '#333', 0.8, 'inset-y-tick');
    label(g, cfg.axis - 3, y(v), String(v), 9.5, 'end', '#333', 'inset-y-tick-label');
  });
  line(g, cfg.axis, cfg.top, cfg.axis, cfg.zero, '#333', 0.9, 'inset-y-axis');
  line(g, cfg.axis - 7, cfg.zero, cfg.end, cfg.zero, '#222', 1, 'inset-x-axis');
}
drawInset('insetH', hExp, hExpErr, hExpected, {zero: 813, unit: 2.72, first: 636, step: 23.7, axis: 623.3, top: 718.3, end: 742});
drawInset('insetK', kExp, kExpErr, kExpected, {zero: 1039.3, unit: 2.736, first: 638, step: 23.8, axis: 626, top: 944.3, end: 745});
</script>
</body>
</html>
